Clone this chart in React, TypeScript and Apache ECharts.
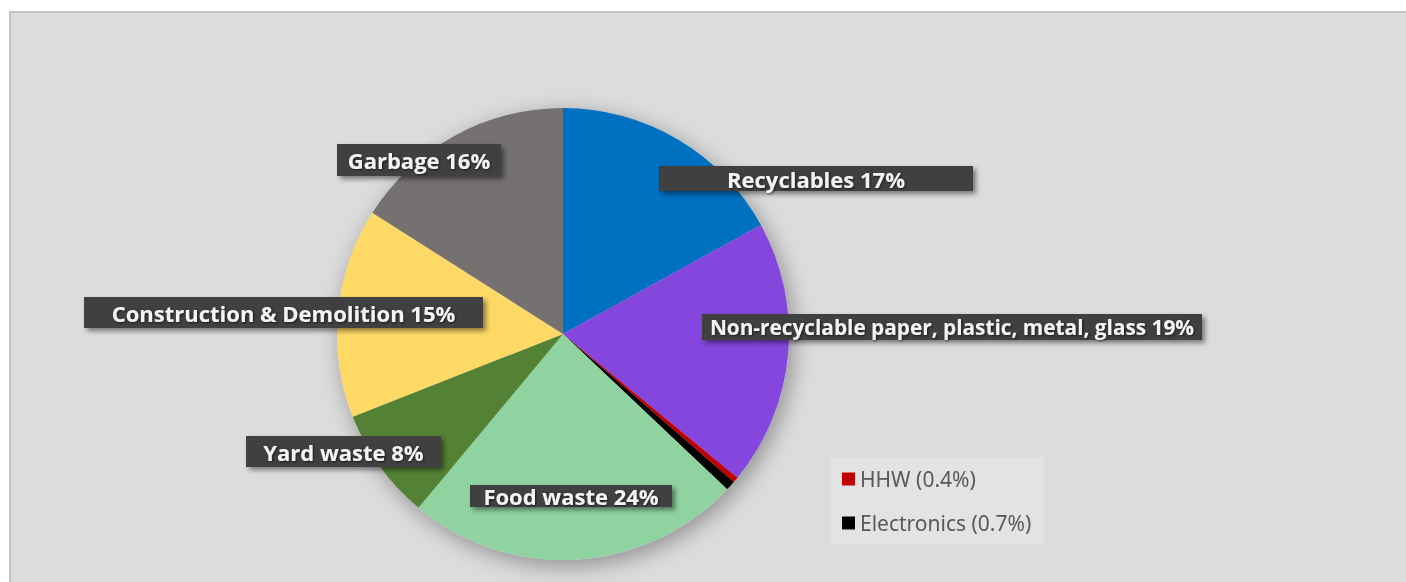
import React, { useEffect, useRef } from "react";
import * as echarts from "echarts";

const categories = [
  "Recyclables",
  "Non-recyclable paper, plastic, metal, glass",
  "HHW",
  "Electronics",
  "Food waste",
  "Yard waste",
  "Construction & Demolition",
  "Garbage",
];
const values = [17, 19, 0.4, 0.7, 24, 8, 15, 16];
const colors = ["#0070c0", "#8446dd", "#c00000", "#000000", "#8fd3a0", "#548235", "#ffd966", "#767171"];
const legendItems = ["HHW", "Electronics"];

// label box layout (centre x, centre y, width, height, font size); null = no label
const labelBoxes: ({ cx: number; cy: number; w: number; h: number; fs: number } | null)[] = [
  { cx: 816, cy: 178.5, w: 314, h: 25, fs: 22 },
  { cx: 952, cy: 327, w: 500, h: 26, fs: 20.8 },
  null,
  null,
  { cx: 571, cy: 496, w: 202, h: 22, fs: 22 },
  { cx: 343.5, cy: 451.5, w: 195, h: 31, fs: 22 },
  { cx: 283.5, cy: 312.5, w: 399, h: 31, fs: 22 },
  { cx: 419, cy: 160, w: 164, h: 32, fs: 22 },
];

const CENTER = [563, 334];
const RADIUS = 226;

export default function App() {
  const ref = useRef<HTMLDivElement>(null);
  useEffect(() => {
    if (!ref.current) return;
    const chart = echarts.init(ref.current, null, { renderer: "svg" });
    const data = categories.map((name, i) => {
      const box = labelBoxes[i];
      return {
        name,
        value: values[i],
        itemStyle: { color: colors[i] },
        label: box
          ? {
              show: true,
              width: box.w,
              height: box.h,
              lineHeight: box.h,
              fontSize: box.fs,
            }
          : { show: false },
      };
    });
    chart.setOption({
      animation: false,
      graphic: [
        {
          type: "rect",
          z: -10,
          silent: true,
          shape: { x: 10, y: 12, width: 1420, height: 620 },
          style: { fill: "#dcdcdc", stroke: "#c3c3c3", lineWidth: 2 },
        },
      ],
      legend: {
        data: legendItems,
        orient: "vertical",
        left: 831,
        top: 457,
        padding: [11, 13, 10, 11],
        backgroundColor: "#e3e3e3",
        itemWidth: 13,
        itemHeight: 13,
        itemGap: 22,
        icon: "rect",
        selectedMode: false,
        formatter: (name: string) => `${name} (${values[categories.indexOf(name)]}%)`,
        textStyle: {
          fontFamily: "Noto Sans",
          fontSize: 21,
          color: "#595959",
          lineHeight: 22,
        },
      },
      series: [
        {
          type: "pie",
          silent: true,
          center: CENTER,
          radius: RADIUS,
          z: 1,
          label: { show: false },
          labelLine: { show: false },
          data: [
            {
              value: 1,
              name: "",
              itemStyle: {
                color: "#cccccc",
                shadowBlur: 22,
                shadowColor: "rgba(0,0,0,0.35)",
                shadowOffsetX: 4,
                shadowOffsetY: 6,
              },
            },
          ],
        },
        {
          type: "pie",
          center: CENTER,
          radius: RADIUS,
          startAngle: 90,
          clockwise: true,
          z: 2,
          avoidLabelOverlap: false,
          itemStyle: { borderWidth: 0 },
          labelLine: { show: false },
          label: {
            position: "outside",
            formatter: (p: any) => `${p.name} ${p.value}%`,
            fontFamily: "Open Sans",
            fontWeight: "bold",
            fontSize: 22,
            color: "#f4f4f4",
            align: "center",
            verticalAlign: "middle",
            backgroundColor: "#404040",
            padding: 0,
            shadowColor: "rgba(0,0,0,0.45)",
            shadowBlur: 5,
            shadowOffsetX: 3,
            shadowOffsetY: 3,
            textShadowColor: "rgba(0,0,0,0.6)",
            textShadowBlur: 2,
            textShadowOffsetX: 1,
            textShadowOffsetY: 1,
          },
          labelLayout: (params: any) => {
            const box = labelBoxes[params.dataIndex];
            if (!box) return {};
            return { x: box.cx, y: box.cy, align: "center", verticalAlign: "middle" };
          },
          emphasis: { disabled: true },
          data,
        },
      ],
    });
    return () => chart.dispose();
  }, []);
  return (
    <div
      ref={ref}
      style={{ position: "fixed", left: 0, top: 0, width: 1406, height: 582 }}
    />
  );
}
